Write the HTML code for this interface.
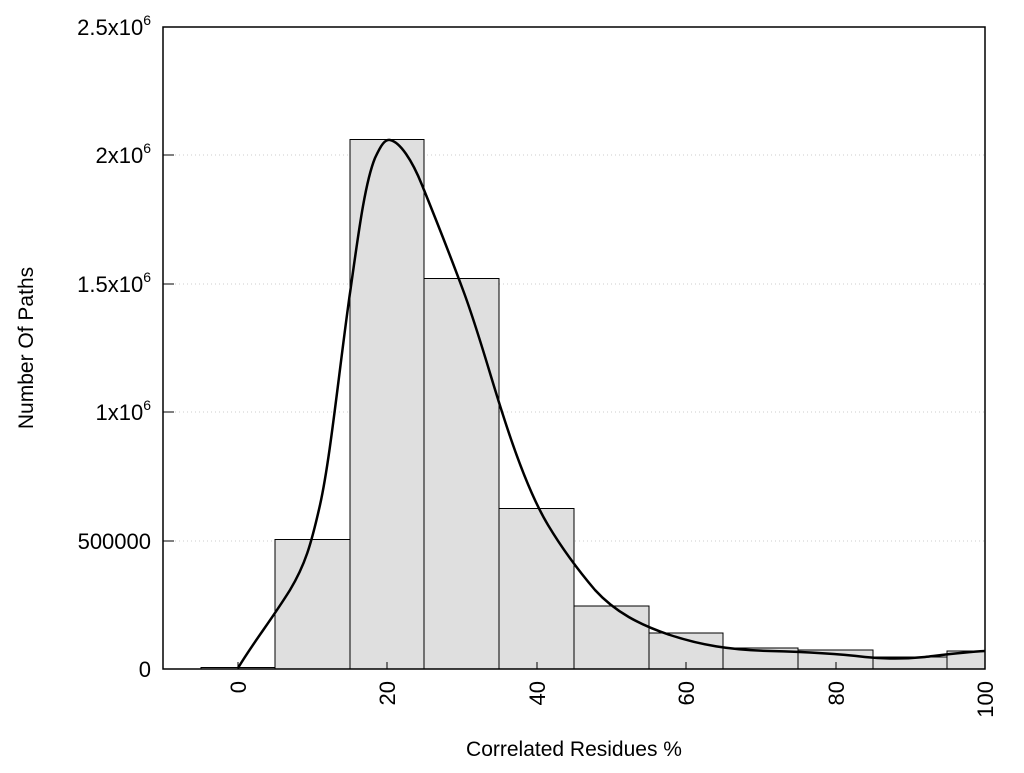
<!DOCTYPE html>
<html><head><meta charset="utf-8"><style>
html,body{margin:0;padding:0;background:#fff;}
</style></head><body>
<svg width="1024" height="768" xmlns="http://www.w3.org/2000/svg" font-family="Liberation Sans, Arial, sans-serif">
<rect width="1024" height="768" fill="#fff"/>
<g stroke="#ccc" stroke-width="1" stroke-dasharray="1,3">
<line x1="175" y1="155" x2="985" y2="155"/>
<line x1="175" y1="284" x2="985" y2="284"/>
<line x1="175" y1="412" x2="985" y2="412"/>
<line x1="175" y1="541" x2="985" y2="541"/>
</g>
<g fill="#dfdfdf" stroke="#000" stroke-width="1">
<rect x="201" y="667.5" width="74" height="1.5"/>
<rect x="275" y="539.5" width="75" height="129.5"/>
<rect x="350" y="139.5" width="74" height="529.5"/>
<rect x="424" y="278.5" width="75" height="390.5"/>
<rect x="499" y="508.5" width="75" height="160.5"/>
<rect x="574" y="606" width="75" height="63"/>
<rect x="649" y="633" width="74" height="36"/>
<rect x="723" y="648" width="75" height="21"/>
<rect x="798" y="650" width="75" height="19"/>
<rect x="873" y="657" width="74" height="12"/>
<rect x="947" y="651" width="38" height="18"/>
</g>
<path d="M238,668 C255,640 270,622 290,590 C305,565 311,545 320,505 C330,460 338,380 349,300 C357,245 364,185 375,158 C381,145 385,139 390,140 C400,142 412,160 422,185 C437,222 450,255 463,290 C478,330 490,375 503,415 C518,462 533,500 548,525 C563,550 578,570 595,590 C615,612 640,625 670,635 C700,645 730,650 770,651 C810,652 840,654 865,657 C885,659 905,659 925,657 C950,654 965,652 985,651" fill="none" stroke="#000" stroke-width="2.5"/>
<rect x="163" y="27" width="822" height="642" fill="none" stroke="#000" stroke-width="1.5"/>
<g stroke="#000" stroke-width="1">
<line x1="163" y1="155" x2="174" y2="155"/>
<line x1="163" y1="284" x2="174" y2="284"/>
<line x1="163" y1="412" x2="174" y2="412"/>
<line x1="163" y1="541" x2="174" y2="541"/>
<line x1="238" y1="669" x2="238" y2="662"/>
<line x1="387" y1="669" x2="387" y2="662"/>
<line x1="537" y1="669" x2="537" y2="662"/>
<line x1="686" y1="669" x2="686" y2="662"/>
<line x1="836" y1="669" x2="836" y2="662"/>
</g>
<g font-size="22" text-anchor="end" fill="#000">
<text x="151" y="677">0</text>
<text x="151" y="549">500000</text>
<text x="151" y="420">1x10<tspan font-size="14" dy="-10">6</tspan></text>
<text x="151" y="292">1.5x10<tspan font-size="14" dy="-10">6</tspan></text>
<text x="151" y="163">2x10<tspan font-size="14" dy="-10">6</tspan></text>
<text x="151" y="35">2.5x10<tspan font-size="14" dy="-10">6</tspan></text>
</g>
<g font-size="22" text-anchor="end" fill="#000">
<text transform="translate(246,681) rotate(-90)">0</text>
<text transform="translate(395,681) rotate(-90)">20</text>
<text transform="translate(545,681) rotate(-90)">40</text>
<text transform="translate(694,681) rotate(-90)">60</text>
<text transform="translate(844,681) rotate(-90)">80</text>
<text transform="translate(993,681) rotate(-90)">100</text>
</g>
<text x="574" y="756" font-size="21" text-anchor="middle">Correlated Residues %</text>
<text transform="translate(33,348) rotate(-90)" font-size="21" text-anchor="middle">Number Of Paths</text>
</svg>
</body></html>
